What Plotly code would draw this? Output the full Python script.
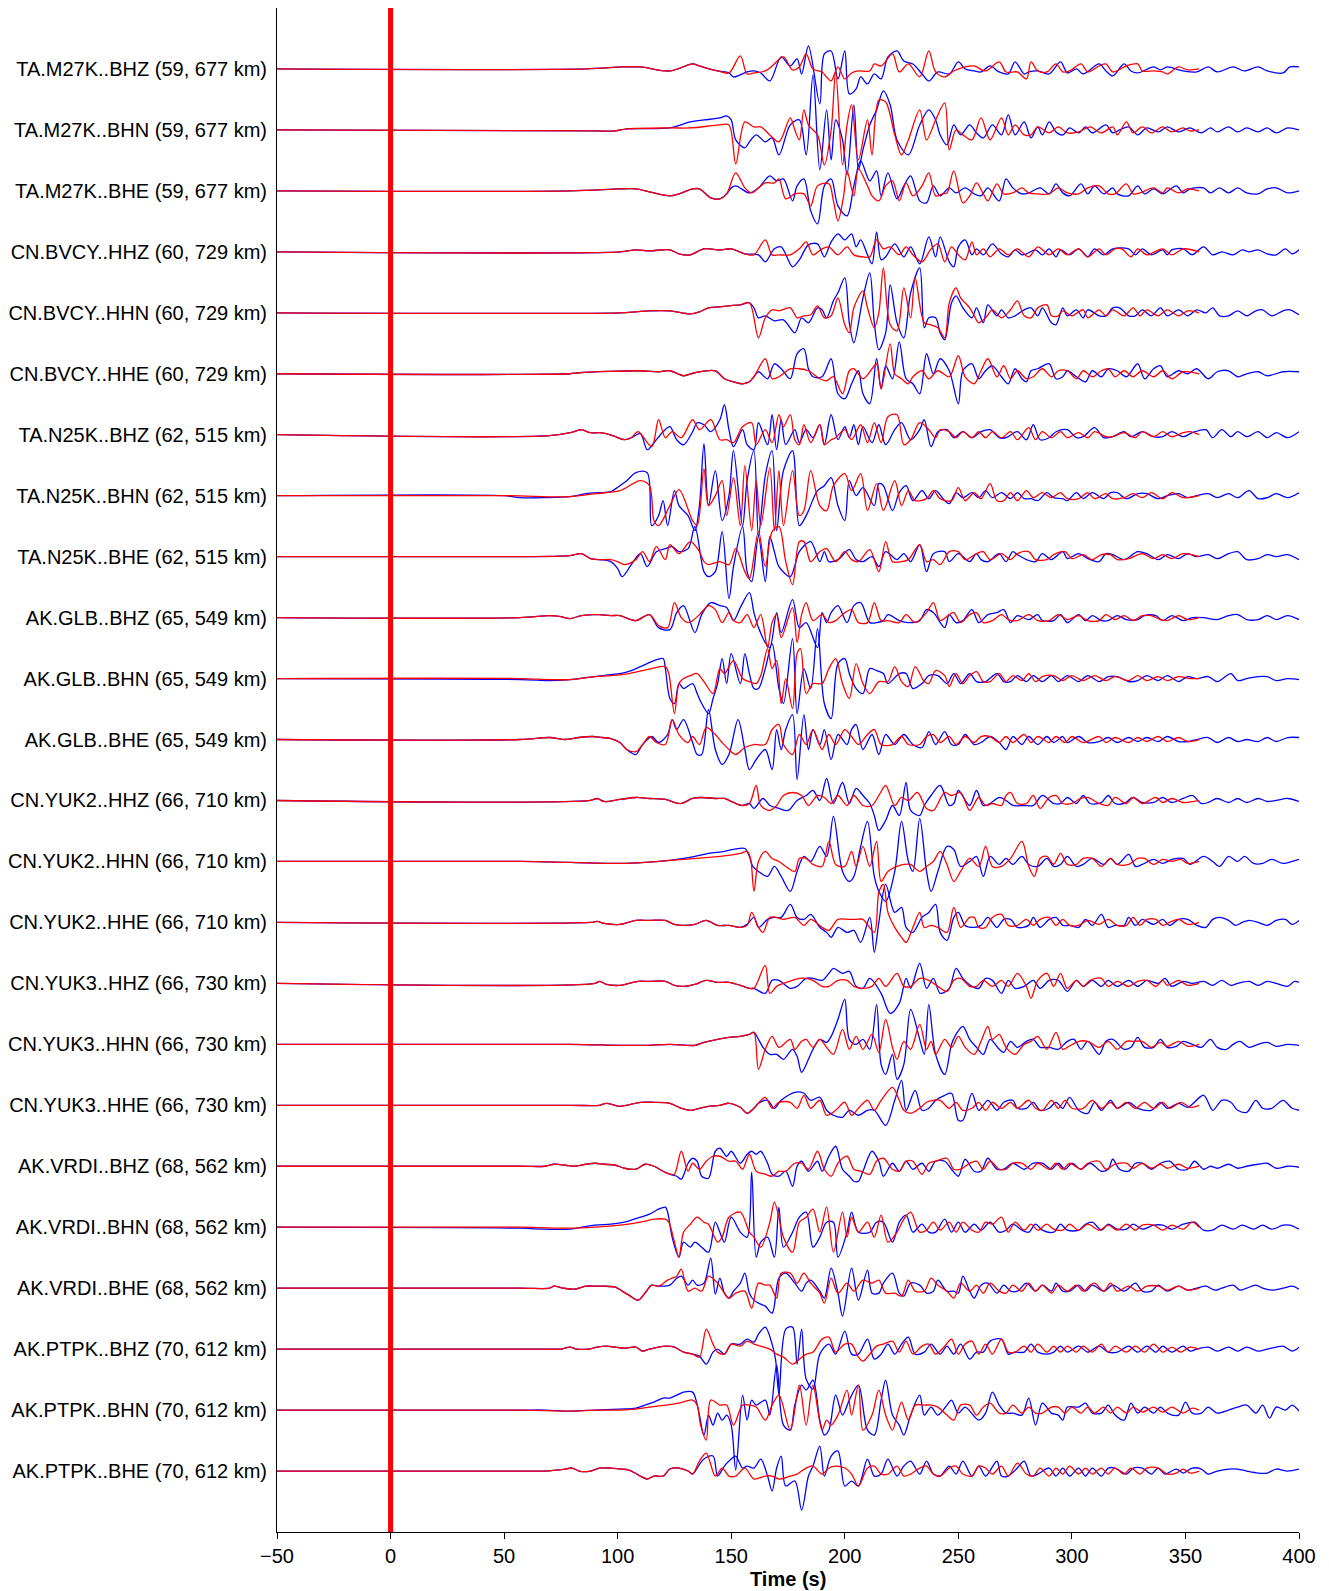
import plotly.graph_objects as go

# Station / channel labels, top to bottom
labels = [
    "TA.M27K..BHZ (59, 677 km)", "TA.M27K..BHN (59, 677 km)", "TA.M27K..BHE (59, 677 km)",
    "CN.BVCY..HHZ (60, 729 km)", "CN.BVCY..HHN (60, 729 km)", "CN.BVCY..HHE (60, 729 km)",
    "TA.N25K..BHZ (62, 515 km)", "TA.N25K..BHN (62, 515 km)", "TA.N25K..BHE (62, 515 km)",
    "AK.GLB..BHZ (65, 549 km)", "AK.GLB..BHN (65, 549 km)", "AK.GLB..BHE (65, 549 km)",
    "CN.YUK2..HHZ (66, 710 km)", "CN.YUK2..HHN (66, 710 km)", "CN.YUK2..HHE (66, 710 km)",
    "CN.YUK3..HHZ (66, 730 km)", "CN.YUK3..HHN (66, 730 km)", "CN.YUK3..HHE (66, 730 km)",
    "AK.VRDI..BHZ (68, 562 km)", "AK.VRDI..BHN (68, 562 km)", "AK.VRDI..BHE (68, 562 km)",
    "AK.PTPK..BHZ (70, 612 km)", "AK.PTPK..BHN (70, 612 km)", "AK.PTPK..BHE (70, 612 km)",
]

# Waveforms as (time s, amplitude) turning points; obs = data (blue), syn = synthetic (red)
m27k_bhz_obs = [(86,0),(102,2),(110,2),(123,-2),(133,5),(136,3),(144,-2),(149,-4),(151,-8),(157,-3),(160,-2),(163,-4),(167,-12),(172,12),(176,3),(179,10),(181,-5),(184,23),(189,-35),(191,15),(194,18),(197,-10),(200,18),(202,-25),(205,-20),(207,-8),(210,-15),(213,-5),(216,-10),(219,12),(223,18),(226,8),(230,5),(234,-5),(237,-12),(241,-3),(246,-5),(250,7),(253,0),(257,-2),(260,-3),(264,3),(268,-3),(272,-5),(275,7),(279,-5),(281,-3),(285,-2),(290,-5),(295,7),(298,-4),(302,0),(305,-5),(312,5),(315,-2),(318,-7),(323,5),(326,-2),(329,-4),(336,2),(339,-1),(342,2),(349,-2),(355,-3),(360,2),(364,-3),(371,2),(376,-2),(382,2),(386,-2),(393,-4),(396,2),(400,2)]
m27k_bhz_syn = [(86,0),(102,2),(110,2),(123,-2),(133,5),(136,3),(144,-2),(149,-4),(154,13),(157,-5),(160,-4),(165,-2),(168,3),(173,12),(177,-1),(180,2),(183,15),(186,0),(190,-3),(192,-8),(194,-12),(197,2),(200,-10),(203,-4),(206,-2),(211,-2),(213,5),(216,3),(221,15),(224,-3),(228,5),(233,-8),(237,18),(240,-3),(244,-8),(248,-2),(253,2),(257,3),(262,-2),(268,7),(271,-3),(276,-3),(280,-10),(282,7),(285,-2),(289,-3),(293,5),(296,-3),(299,-2),(304,5),(307,-3),(312,3),(315,5),(318,-3),(324,3),(329,5),(331,-2),(336,-2),(340,-3),(342,-5),(347,2),(351,-1),(356,0)]

m27k_bhn_obs = [(90,-1),(99,-1),(104,1),(123,2),(132,8),(138,10),(145,12),(148,14),(150,10),(152,-10),(156,-18),(158,-12),(161,-5),(165,-12),(168,-8),(171,-25),(176,5),(180,10),(183,-25),(186,55),(189,-40),(192,20),(194,-30),(196,10),(199,-10),(201,-45),(204,25),(206,-40),(208,-20),(211,5),(214,20),(217,39),(220,25),(223,-10),(228,-25),(233,5),(237,20),(240,10),(242,-5),(245,-15),(248,5),(251,-5),(255,5),(258,-3),(261,-8),(265,5),(269,-5),(272,15),(275,-5),(279,8),(282,-8),(285,3),(287,-5),(290,8),(293,-2),(296,-5),(299,2),(303,-3),(306,3),(309,-3),(315,5),(318,-3),(321,0),(325,3),(329,-5),(333,2),(338,-2),(342,3),(347,-2),(352,2),(357,-3),(361,2),(364,-2),(369,3),(373,-2),(377,2),(382,-2),(386,2),(390,-3),(395,2),(400,0)]
m27k_bhn_syn = [(90,-1),(99,-1),(104,1),(123,2),(132,2),(145,5),(149,5),(152,-34),(156,8),(160,3),(163,3),(167,-5),(171,-12),(176,12),(178,0),(180,-10),(182,20),(184,5),(188,-5),(191,-35),(194,0),(196,58),(199,-35),(201,5),(203,25),(206,-30),(210,10),(212,-25),(215,30),(218,28),(222,-5),(225,-25),(228,-10),(233,20),(236,-10),(240,10),(244,27),(246,-20),(249,0),(252,-5),(256,-10),(260,12),(264,-10),(269,12),(272,-5),(275,5),(279,-5),(282,-5),(285,3),(290,-3),(294,3),(298,-3),(303,-2),(308,3),(313,-3),(318,3),(320,-5),(324,8),(327,-3),(331,3),(335,-3),(340,3),(344,-2),(349,2),(352,-1),(356,0)]

m27k_bhe_obs = [(79,0),(101,2),(108,2),(114,-1),(123,-5),(127,-3),(133,2),(136,2),(141,-7),(145,-8),(148,-3),(150,3),(152,5),(158,-2),(162,3),(167,15),(170,10),(173,12),(177,-10),(179,5),(182,12),(185,-20),(188,-33),(191,5),(194,12),(197,-15),(201,-25),(204,5),(207,30),(211,10),(214,20),(216,-5),(219,18),(223,-8),(226,5),(229,15),(233,-10),(236,-12),(239,5),(242,-5),(246,3),(249,-2),(253,3),(257,-3),(260,-5),(263,3),(268,-10),(271,12),(274,3),(278,-3),(281,-2),(286,3),(290,-3),(293,7),(296,-2),(299,-5),(304,7),(307,-3),(310,5),(314,-3),(318,3),(320,-3),(325,-5),(329,5),(332,-3),(336,2),(340,-3),(346,5),(349,-2),(352,2),(358,3),(361,-2),(365,3),(369,-2),(373,3),(377,-2),(382,-3),(386,2),(390,3),(395,-2),(400,0)]
m27k_bhe_syn = [(79,0),(101,2),(108,2),(114,-1),(123,-5),(127,-3),(133,2),(136,2),(141,-7),(145,-8),(148,-3),(152,18),(156,3),(159,-2),(162,3),(165,8),(169,8),(171,12),(174,-8),(178,-3),(182,-3),(185,-15),(188,5),(193,7),(195,-10),(197,-30),(199.5,-5),(201,20),(204,-5),(206,22),(210,5),(212,-5),(215,-10),(218,5),(221,10),(224,-10),(227,8),(230,-5),(234,5),(237,18),(240,-5),(243,-3),(245,-2),(248,20),(252,-12),(255,-5),(258,8),(261,-3),(263,-10),(267,7),(270,-3),(274,-2),(278,3),(281,-2),(285,-3),(290,-3),(294,3),(298,-2),(303,-3),(307,3),(312,5),(316,-3),(319,-3),(324,7),(327,-3),(330,-2),(336,3),(340,-2),(342,3),(347,-2),(351,2),(356,0)]

bvcy_hhz_obs = [(101,0),(108,2),(114,1),(123,2),(127,-2),(132,-3),(138,3),(145,2),(150,3),(156,-2),(162,-3),(165,-10),(169,3),(172,5),(177,-15),(180,-8),(184,7),(188,8),(191,-5),(194,10),(197,18),(200,12),(203,18),(205,5),(207,12),(210,-3),(212,-12),(214,20),(216,-8),(218,-5),(222,8),(226,-5),(229,5),(233,-12),(237,15),(240,-5),(242,15),(246,-10),(248,-15),(250,5),(253,12),(256,-3),(258,3),(261,-3),(265,8),(269,-2),(272,-5),(275,2),(278,-3),(280,-2),(284,2),(287,-3),(290,3),(293,-5),(295,2),(299,-3),(303,3),(307,-5),(310,3),(314,-3),(318,3),(325,3),(328,-3),(331,3),(335,-3),(340,2),(342,-3),(344,2),(349,3),(353,-3),(358,5),(362,-3),(366,0),(371,-3),(375,2),(378,0),(382,2),(386,-2),(390,-3),(394,3),(397,-2),(400,2)]
bvcy_hhz_syn = [(101,0),(108,2),(114,1),(123,2),(127,-2),(132,-3),(138,3),(145,2),(150,3),(156,-2),(160,-3),(165,12),(168,-3),(171,-3),(176,-3),(180,3),(183,10),(186,-3),(190,3),(193,5),(197,-3),(201,5),(204,-3),(208,-5),(211,-5),(214,12),(217,3),(220,5),(224,-3),(227,5),(230,-3),(234,-10),(238,3),(241,8),(244,-10),(247,5),(250,-3),(253,-8),(256,10),(258,-3),(261,3),(264,-5),(268,3),(272,-3),(276,3),(281,-5),(285,5),(290,-3),(294,3),(298,-3),(303,3),(307,-5),(312,3),(315,-3),(319,3),(322,3),(326,-5),(329,3),(333,-3),(340,3),(344,-3),(349,3),(356,0)]

bvcy_hhn_obs = [(101,0),(108,1),(114,2),(123,2),(132,-1),(136,1),(140,5),(145,6),(149,7),(154,8),(158,10),(160,5),(162,-5),(165,-3),(169,-8),(173,-7),(178,-20),(181,-5),(184,-10),(188,5),(190,3),(192,-5),(195,12),(197,20),(200,35),(202,-10),(204,-30),(208,15),(211,40),(213,-10),(215,-37),(218,-20),(220,28),(223,-10),(226,-25),(229,20),(233,45),(235,-15),(237,-5),(240,-5),(242,-20),(244,-27),(247,10),(249,17),(252,5),(256,-5),(258,5),(261,-10),(263,8),(267,-3),(269,3),(272,-5),(275,-3),(279,3),(282,5),(285,-3),(287,5),(291,-10),(293,-12),(296,5),(298,-3),(302,3),(305,-5),(307,3),(312,-3),(315,-3),(318,5),(321,5),(325,-3),(328,-3),(331,3),(335,-3),(339,5),(342,-3),(347,3),(351,-3),(355,3),(359,0),(362,5),(365,-3),(369,-3),(373,2),(377,-3),(381,2),(384,3),(388,-3),(393,2),(396,3),(400,-2)]
bvcy_hhn_syn = [(101,0),(108,1),(114,2),(123,2),(132,-1),(136,1),(140,5),(145,6),(149,7),(154,8),(158,10),(162,-25),(165,-5),(168,3),(171,2),(176,5),(179,-5),(182,-3),(185,-2),(188,7),(191,-5),(194,-3),(197,15),(200,-12),(202,-20),(204,5),(208,22),(210,5),(213,-15),(215,0),(217,45),(220,-12),(223,-18),(226,25),(229,-5),(231,35),(235,-10),(238,-12),(241,-15),(244,-25),(246,10),(249,25),(251,15),(255,5),(257,-3),(259,-10),(262,-5),(265,3),(269,-5),(273,3),(276,12),(279,-3),(282,-5),(285,5),(289,8),(291,-3),(294,-3),(296,2),(300,-3),(305,3),(307,-5),(312,3),(315,-3),(318,3),(323,-3),(327,5),(330,-3),(333,3),(338,-3),(342,3),(347,-3),(351,2),(356,0)]

bvcy_hhe_obs = [(79,0),(83,1),(110,3),(118,2),(123,3),(129,-2),(134,1),(143,3),(147,-5),(151,-8),(155,-10),(158,-8),(160,-3),(162,2),(166,-5),(169,10),(172,5),(176,-5),(179,20),(182,25),(184,5),(186,-3),(190,-3),(194,15),(197,-20),(200,-25),(203,-10),(206,3),(208,-20),(211,-30),(214,15),(216,-15),(218,8),(221,-5),(224,32),(227,-5),(230,-10),(233,-20),(236,20),(239,0),(242,15),(246,3),(250,-30),(252,3),(256,10),(259,-5),(262,3),(265,8),(269,-3),(272,-10),(275,5),(278,-5),(280,-8),(282,3),(285,5),(290,10),(293,-5),(296,-3),(298,3),(302,-3),(306,-8),(309,3),(313,-3),(316,5),(320,3),(324,-3),(329,10),(332,-5),(336,5),(339,8),(342,-3),(347,3),(351,0),(355,5),(360,-5),(364,2),(369,3),(373,-3),(377,0),(382,2),(386,-2),(393,2),(400,2)]
bvcy_hhe_syn = [(79,0),(83,1),(110,3),(118,2),(123,3),(129,-2),(134,1),(143,3),(147,-5),(151,-8),(155,-10),(158,-8),(160,-3),(165,15),(168,-5),(171,-3),(176,5),(180,5),(184,3),(189,-5),(192,-7),(195,-3),(199,-20),(202,3),(204,5),(208,-5),(212,5),(214,10),(216,-15),(220,30),(222,0),(225,-5),(228,-10),(230,-3),(234,3),(237,-5),(241,3),(246,-3),(250,18),(253,-3),(257,-10),(260,3),(263,15),(267,-3),(270,8),(273,-5),(276,3),(280,-5),(283,-3),(287,5),(291,-3),(294,3),(298,3),(302,-5),(305,3),(309,-3),(313,3),(316,5),(319,-3),(323,3),(327,-3),(331,3),(336,-3),(340,3),(344,-5),(349,2),(356,0)]

n25k_bhz_obs = [(70,-1),(79,2),(84,5),(88,2),(92,2),(95,1),(99,-2),(103,-5),(106,-3),(110,1),(113,-15),(116,-8),(120,3),(123,8),(126,-5),(129,-10),(133,3),(135,12),(138,10),(141,3),(145,15),(147,30),(149,5),(151,-12),(155,5),(157,-10),(160,-15),(162,12),(166,-10),(168,20),(170,-15),(172,15),(174,-10),(178,5),(180,-8),(183,5),(186,-3),(189,10),(191,-10),(194,20),(197,-5),(200,8),(202,-3),(204,10),(206,-10),(208,8),(212,-8),(215,10),(218,-10),(222,5),(225,12),(229,-5),(233,5),(235,15),(238,-12),(241,3),(245,5),(248,-3),(252,3),(256,-3),(260,3),(264,5),(268,-3),(271,-3),(276,3),(280,-5),(283,10),(286,-5),(290,-3),(293,3),(298,5),(302,-3),(305,-2),(310,7),(314,-3),(318,-2),(323,3),(326,-2),(331,3),(336,-2),(340,-2),(344,3),(349,-2),(353,2),(359,5),(362,-3),(366,5),(370,-2),(373,3),(377,-2),(382,3),(386,-3),(390,2),(395,-3),(400,3)]
n25k_bhz_syn = [(70,-1),(79,2),(84,5),(88,2),(92,2),(95,1),(99,-2),(103,-5),(106,-3),(109,3),(115,-12),(118,15),(121,-3),(124,3),(128,-3),(133,15),(136,5),(141,15),(145,-5),(148,-5),(151,-8),(155,8),(159,12),(161,-10),(165,5),(168,-8),(171,20),(173,8),(176,20),(178,-5),(180,-10),(182,10),(185,-8),(189,10),(191,-10),(194,-5),(196,-3),(200,5),(203,-5),(207,10),(210,-8),(213,12),(216,-8),(219,18),(223,20),(226,-10),(229,-5),(233,12),(237,5),(240,-3),(242,5),(246,3),(249,-3),(252,3),(256,-3),(259,3),(262,-3),(265,3),(269,-3),(273,3),(276,-5),(281,7),(284,-5),(287,3),(291,-3),(295,3),(298,-3),(303,2),(307,-3),(310,3),(315,-2),(318,-2),(323,2),(328,-3),(331,3),(336,-2),(340,3),(344,-2),(349,2),(352,3),(356,0)]

n25k_bhn_obs = [(50,0),(57,-2),(68,-2),(79,-1),(86,2),(92,3),(97,4),(101,10),(104,15),(108,23),(113,23),(115,-30),(118,-20),(120,-5),(122,-30),(125,5),(127,-10),(131,-20),(134,-35),(136,-10),(138,52),(140,-10),(143,25),(146,-25),(149,0),(151,45),(155,-30),(157,15),(160,45),(162,-40),(165,20),(168,45),(170,-35),(173,25),(177,45),(180,-30),(183,-20),(188,5),(191,10),(194,18),(197,-10),(200,-25),(202,15),(205,0),(208,8),(213,-10),(215,12),(217,10),(221,-15),(224,3),(227,10),(230,-5),(234,5),(237,-3),(240,5),(244,-5),(246,-8),(249,3),(252,-2),(256,3),(259,-2),(262,5),(265,-2),(269,3),(273,-3),(276,3),(279,-3),(282,-3),(285,-5),(289,3),(292,-2),(296,-3),(298,-5),(302,3),(305,-3),(309,3),(314,-3),(317,3),(320,3),(324,-3),(329,2),(333,2),(338,-3),(342,0),(347,2),(351,-2),(355,0),(360,2),(364,-2),(369,2),(373,-2),(378,5),(382,-3),(386,-2),(390,2),(395,-2),(400,3)]
n25k_bhn_syn = [(50,0),(79,-1),(90,2),(101,5),(110,15),(114,10),(116,-25),(118,-30),(123,-10),(127,6),(133,-25),(135,-30),(138,27),(140,-10),(143,0),(146,15),(148,-20),(151,18),(154,-30),(156,30),(159,-35),(161,15),(163,-30),(167,28),(169,-35),(171,25),(173,-30),(177,25),(180,-20),(182,-15),(185,25),(189,-10),(192,-15),(195,10),(200,22),(203,5),(207,22),(210,-15),(214,12),(217,-15),(222,15),(225,-10),(228,5),(231,-5),(236,-3),(239,5),(242,-3),(247,-5),(250,8),(253,-5),(257,3),(260,-3),(264,12),(267,-5),(270,-5),(273,3),(276,-5),(280,5),(283,-2),(287,3),(291,-2),(295,3),(298,-3),(303,-3),(307,3),(310,-3),(315,2),(318,-3),(323,-2),(327,2),(331,-2),(335,3),(340,-3),(344,3),(349,-2),(356,0)]

n25k_bhe_obs = [(50,0),(79,1),(84,3),(88,-2),(92,-3),(97,-5),(100,-12),(102,-20),(106,-8),(110,3),(113,-10),(117,5),(121,8),(124,10),(127,5),(131,8),(134,30),(138,-15),(140,-20),(143,-15),(146,25),(149,-42),(151,-10),(155,30),(157,-15),(159,-25),(162,20),(165,-25),(167,20),(169,5),(171,-10),(176,-20),(178,-9),(180,5),(185,15),(189,-5),(191,5),(193,-5),(197,-3),(202,7),(205,-3),(208,-5),(212,0),(215,-10),(218,5),(223,-3),(226,3),(229,-5),(233,12),(236,-15),(239,3),(244,5),(246,-5),(250,3),(255,-5),(258,3),(260,-3),(263,-5),(268,3),(271,-5),(274,5),(276,2),(280,-3),(284,-5),(287,3),(291,-3),(296,5),(298,-2),(303,3),(307,-2),(312,-5),(315,3),(318,2),(323,-3),(329,5),(333,3),(338,-3),(342,2),(347,-2),(351,3),(355,0),(360,2),(364,-2),(369,3),(373,5),(377,-3),(382,-2),(386,2),(390,0),(395,2),(400,-3)]
n25k_bhe_syn = [(50,0),(79,1),(84,3),(88,-2),(92,-3),(97,-3),(100,-5),(103,-8),(108,-3),(111,5),(114,-5),(117,10),(121,-3),(123,12),(127,3),(132,15),(136,5),(138,-5),(140,-8),(145,-5),(149,-8),(152,8),(156,-15),(158,-22),(162,25),(165,-10),(168,25),(171,30),(174,-5),(177,-28),(180,15),(182,15),(185,-5),(189,5),(192,8),(196,-5),(200,5),(203,-3),(206,-5),(211,7),(215,-15),(218,15),(221,-5),(225,-5),(228,-3),(233,12),(236,-5),(239,-3),(242,-8),(246,5),(250,5),(253,-3),(258,3),(261,5),(264,-3),(269,3),(273,-3),(276,3),(281,5),(284,-3),(289,-3),(292,2),(297,5),(300,-2),(305,2),(309,-3),(313,2),(317,2),(320,-3),(325,-2),(331,3),(336,-2),(340,2),(344,-2),(349,3),(356,0)]

glb_bhz_obs = [(57,0),(70,2),(75,1),(79,-1),(84,2),(89,3),(92,3),(97,2),(101,2),(108,-3),(114,3),(118,-10),(123,-12),(126,5),(129,12),(134,-15),(137,3),(141,15),(145,12),(148,10),(151,-3),(154,10),(158,25),(160,5),(162,-10),(165,-25),(167,-30),(170,5),(172,-15),(177,18),(180,-10),(183,-5),(188,-30),(190,5),(192,-5),(194,5),(197,12),(201,-5),(204,12),(207,15),(211,-5),(214,-5),(217,-3),(219,3),(224,-3),(228,-5),(233,-3),(236,8),(239,5),(244,-10),(246,3),(249,-5),(252,-3),(256,8),(259,-5),(263,3),(267,5),(270,8),(273,-5),(276,2),(281,-2),(285,3),(287,-3),(292,-3),(295,3),(298,-5),(303,3),(306,-3),(309,2),(313,-3),(316,-3),(320,2),(324,-2),(329,-2),(332,2),(337,2),(340,-3),(344,2),(349,-3),(353,0),(358,0),(364,-2),(369,2),(373,3),(377,-2),(382,-2),(386,2),(390,-2),(395,2),(400,-2)]
glb_bhz_syn = [(57,0),(70,2),(75,1),(79,-1),(84,2),(89,3),(92,3),(97,2),(101,2),(108,-3),(114,3),(118,-8),(122,-10),(125,15),(128,0),(131,-5),(133,-3),(136,3),(140,12),(143,8),(146,-5),(149,5),(151,-3),(154,-5),(157,3),(160,-10),(163,3),(166,-30),(168,-5),(170,3),(172,-20),(177,10),(179,-25),(181,3),(183,15),(186,-3),(190,3),(193,-5),(196,-3),(200,5),(203,8),(206,-5),(210,-5),(213,15),(216,-3),(219,-3),(224,-5),(227,3),(231,-5),(236,5),(239,15),(242,-3),(246,3),(248,5),(251,-5),(255,3),(258,5),(261,-5),(265,-3),(269,3),(272,-2),(276,-3),(281,3),(285,-3),(290,-3),(294,3),(298,-2),(303,2),(307,-3),(312,-3),(315,3),(319,-2),(323,2),(327,-3),(331,2),(335,2),(339,-2),(342,-3),(347,2),(351,-2),(356,0)]

glb_bhn_obs = [(57,-1),(70,-2),(79,-1),(90,2),(97,4),(101,5),(106,8),(110,12),(113,15),(116,18),(120,20),(121,10),(123,-20),(125,-25),(127,-5),(129,-10),(133,-5),(135,-15),(137,-25),(140,-35),(142,-20),(144,-5),(146,20),(148,-5),(150,25),(154,-5),(156,25),(158,5),(160,-10),(162,-10),(165,10),(168,35),(171,-10),(173,-25),(177,40),(179,-35),(182,10),(185,-10),(188,50),(191,-25),(194,-40),(197,15),(200,20),(202,5),(205,-10),(208,-15),(211,10),(214,8),(217,5),(219,-5),(224,5),(227,5),(230,-10),(234,-5),(237,3),(241,3),(245,-5),(248,5),(251,-5),(255,5),(258,-3),(262,-3),(267,5),(270,-3),(273,-3),(276,3),(280,-3),(283,3),(287,-3),(291,3),(294,-3),(298,3),(303,-3),(307,3),(312,-3),(316,2),(320,2),(325,-3),(329,-2),(333,3),(338,-2),(342,3),(347,-3),(351,2),(355,0),(360,2),(364,-3),(370,5),(373,-2),(377,0),(382,2),(386,2),(390,-2),(395,0),(400,-1)]
glb_bhn_syn = [(57,0),(70,-1),(79,-1),(90,2),(97,3),(105,5),(111,8),(115,10),(121,12),(122.5,5),(125,-35),(127,-5),(129,0),(132,3),(135,5),(138,-3),(142,-15),(145,10),(147,5),(151,18),(155,0),(158,-3),(161,-5),(163,3),(166,30),(168,10),(170,18),(172,-25),(174,0),(177,-30),(179,25),(180.5,30),(183,-15),(186,-5),(190,-5),(193,10),(196,20),(199,-5),(202,-20),(205,15),(208,-5),(211,-15),(215,-3),(219,-3),(222,12),(225,-3),(228,-8),(231,12),(235,-3),(237,-5),(240,8),(244,3),(246,-8),(249,5),(252,-5),(255,3),(258,7),(261,-3),(264,-3),(268,5),(271,-3),(274,3),(278,-2),(281,5),(284,-3),(287,2),(292,3),(296,-2),(300,3),(305,-2),(310,3),(315,-2),(319,2),(325,-2),(329,3),(333,-2),(338,2),(342,-2),(347,2),(352,0),(356,0)]

glb_bhe_obs = [(57,0),(70,2),(77,0),(83,2),(89,3),(93,2),(97,1),(101,-3),(104,-10),(108,-15),(111,-5),(115,3),(118,-3),(122,5),(124,20),(126,10),(129,20),(133,-3),(135,-15),(137,-15),(140,30),(143,-10),(146,-25),(149,-15),(153,20),(156,-10),(158,-30),(161,-20),(165,-10),(168,-30),(170,10),(172,-10),(174,10),(177,25),(179,-40),(182,25),(184,-10),(186,10),(189,-5),(191,10),(194,-20),(197,5),(201,-5),(203,10),(205,15),(208,-10),(212,5),(215,-15),(218,5),(222,-5),(226,5),(230,-5),(234,-8),(237,8),(240,-5),(244,8),(247,-5),(250,-5),(253,5),(257,-5),(260,-3),(264,3),(268,-3),(271,-10),(274,3),(278,-5),(281,3),(285,-5),(289,3),(292,-3),(296,3),(298,-3),(303,3),(307,-3),(312,-2),(316,2),(320,-3),(325,2),(329,-2),(333,2),(338,-2),(342,3),(347,-2),(351,-2),(355,0),(360,2),(364,-3),(369,2),(373,-2),(377,0),(382,-2),(386,2),(390,-2),(395,2),(400,2)]
glb_bhe_syn = [(57,0),(70,2),(77,0),(83,2),(89,3),(93,2),(97,1),(101,-3),(104,-10),(108,-12),(111,-5),(114,3),(117,-3),(121,-5),(124,20),(127,5),(131,-3),(133,3),(136,-5),(139,12),(143,5),(146,-3),(149,-10),(152,-15),(156,-8),(160,-5),(165,-5),(168,10),(171,15),(173,-5),(177,-15),(180,5),(183,-5),(186,10),(190,-10),(193,5),(196,-5),(200,10),(203,3),(206,-5),(210,5),(213,10),(216,-5),(221,-5),(225,3),(228,-5),(233,-5),(236,3),(239,5),(242,-3),(246,3),(249,-5),(253,3),(257,-3),(260,3),(264,3),(268,-3),(271,3),(274,-3),(279,5),(282,-3),(285,3),(290,-3),(293,3),(297,-3),(300,3),(305,-3),(312,3),(315,-3),(319,2),(325,-3),(329,2),(333,-2),(338,3),(342,-2),(347,2),(351,-2),(356,0)]

yuk2_hhz_obs = [(88,0),(91,2),(94,-1),(101,1),(108,3),(114,2),(121,1),(125,-2),(128,-3),(133,2),(137,3),(143,2),(147,2),(151,-2),(155,-5),(158,-3),(160,-8),(164,2),(167,-5),(171,-8),(175,-10),(179,0),(183,5),(186,10),(189,0),(192,22),(195,-3),(199,18),(202,-3),(205,12),(208,5),(211,-3),(213,-15),(215,-30),(218,-20),(221,-5),(224,-15),(227,18),(229,-10),(233,-15),(235,-5),(238,5),(242,15),(246,-5),(248,-3),(250,10),(255,-5),(258,10),(261,-5),(264,-3),(268,3),(271,0),(274,-5),(279,-5),(283,-5),(287,5),(292,-3),(295,-3),(298,3),(302,-3),(305,5),(308,-3),(313,-2),(316,5),(319,-3),(323,-3),(327,3),(331,-2),(336,-2),(340,3),(344,-2),(349,2),(353,5),(357,-3),(360,-2),(364,2),(369,-2),(373,2),(377,-2),(382,2),(386,-1),(390,0),(395,2),(400,-1)]
yuk2_hhz_syn = [(88,0),(91,2),(94,-1),(101,1),(108,3),(114,2),(121,1),(125,-2),(128,-3),(133,2),(137,3),(143,2),(147,2),(151,-2),(155,-5),(158,-3),(161,15),(163,-5),(167,-10),(170,-5),(173,5),(177,8),(181,5),(184,-5),(188,5),(191,3),(194,-3),(197,5),(201,-5),(204,5),(208,-5),(212,-5),(215,5),(218,15),(222,-5),(225,3),(228,0),(232,8),(236,-8),(239,-10),(244,8),(247,5),(251,8),(255,-10),(259,3),(262,-5),(265,-3),(269,-5),(271,5),(273,8),(276,-3),(280,-3),(283,5),(286,-8),(290,3),(293,5),(296,-3),(300,-3),(304,2),(307,3),(312,-3),(316,-5),(319,3),(324,-3),(327,3),(331,-3),(337,3),(340,-2),(344,2),(349,-2),(356,0)]

yuk2_hhn_obs = [(57,0),(79,-1),(101,-2),(112,-1),(123,1),(129,3),(134,5),(140,8),(147,10),(151,12),(156,13),(158,5),(159.5,-5),(162,-10),(166,-15),(169,-5),(172,-15),(176,-30),(179,-10),(182,5),(185,0),(189,15),(192,5),(195,45),(199,-10),(202,-20),(204,-15),(207,15),(210,40),(213,-15),(215,-30),(218,-40),(222,-10),(225,40),(228,0),(230,-10),(233,43),(236,-10),(238,-30),(241,-10),(245,15),(248,12),(251,-5),(255,0),(258,5),(261,-15),(264,5),(268,-3),(271,3),(274,-3),(278,5),(281,-3),(285,-5),(289,3),(292,-5),(295,-3),(298,5),(302,-5),(305,-3),(309,3),(314,-3),(317,3),(320,-3),(325,7),(328,-5),(331,-3),(336,2),(340,-2),(344,2),(349,3),(352,-3),(358,5),(362,0),(365,-5),(369,5),(373,0),(376,5),(380,-2),(384,-2),(388,2),(393,-2),(397,0),(400,2)]
yuk2_hhn_syn = [(57,0),(79,-1),(101,-2),(112,-1),(123,1),(129,2),(140,4),(149,6),(154,8),(157,10),(158.5,3),(160,-30),(162,0),(165,10),(168,3),(171,0),(174,-5),(178,-10),(180,3),(183,3),(186,-3),(190,-5),(193,20),(196,-3),(200,-5),(203,10),(205,-5),(208,15),(211,-5),(214,20),(216,-20),(219,-10),(223,-5),(226,-3),(229,-3),(233,-10),(236,-5),(239,0),(242,10),(245,-3),(248,-20),(251,-10),(255,3),(259,-5),(262,15),(265,-5),(269,-5),(273,3),(278,20),(281,-5),(283.5,-15),(286,3),(289,5),(292,-3),(295,8),(298,-3),(302,-3),(305,3),(309,3),(313,-5),(317,3),(320,-3),(325,-3),(329,3),(332,3),(336,-3),(340,2),(344,0),(348,2),(351,-2),(356,0)]

yuk2_hhe_obs = [(88,0),(91,1),(94,-1),(101,-2),(108,2),(114,2),(121,2),(125,-2),(129,-3),(134,-2),(139,2),(144,-3),(149,-3),(154,-5),(157,-2),(160,5),(162,-5),(166,3),(169,5),(172,5),(176,18),(179,5),(182,3),(185,8),(189,-5),(192,-10),(194,-15),(197,-5),(201,-10),(204,-8),(207,-20),(211,5),(213,-30),(215,0),(218,38),(222,10),(225,15),(227,-5),(230,-10),(234,5),(237,10),(240,18),(242,-10),(245,-18),(248,5),(250,10),(253,-3),(257,-5),(260,-3),(263,5),(267,-5),(270,3),(273,3),(276,-5),(281,-3),(283,5),(286,-5),(290,3),(293,5),(296,-3),(299,-3),(303,-5),(306,3),(309,-3),(313,8),(316,-5),(319,-3),(323,-3),(325,5),(328,-3),(331,3),(336,-2),(340,3),(343,-3),(347,3),(351,3),(355,-3),(359,-5),(362,3),(365,5),(369,2),(372,-3),(375,0),(378,2),(382,0),(386,-3),(390,2),(394,3),(397,-2),(400,2)]
yuk2_hhe_syn = [(88,0),(91,1),(94,-1),(101,-2),(108,2),(114,2),(121,2),(125,-2),(129,-3),(134,-2),(139,2),(144,-3),(149,-3),(154,-5),(157,-3),(159,10),(162,-5),(164,-10),(167,5),(170,5),(173,3),(178,5),(182,-3),(185,3),(190,-5),(193,-8),(197,3),(202,3),(205,3),(208,3),(213,-10),(215,30),(217,38),(219,10),(222,-5),(225,-15),(227,-20),(230,-5),(233,10),(235,-5),(238,-3),(241,-5),(245,-10),(248,15),(251,-5),(255,5),(257,5),(259,-5),(262,-5),(265,5),(269,8),(272,-3),(276,-3),(280,3),(283,-3),(286,3),(290,5),(293,-3),(296,3),(299,-3),(303,-3),(307,2),(312,-2),(316,3),(320,-3),(324,-3),(327,5),(330,-3),(333,3),(337,3),(340,-3),(343,0),(347,3),(351,-2),(356,0)]

yuk3_hhz_obs = [(90,0),(92,2),(95,-1),(101,-2),(105,0),(109,2),(114,2),(121,2),(125,-2),(129,-3),(134,-1),(139,3),(144,1),(149,1),(154,-2),(158,-5),(160,-5),(165,-10),(168,3),(171,3),(176,-5),(179,-3),(183,5),(186,5),(190,3),(193,10),(195,15),(199,10),(202,12),(205,-3),(208,-5),(211,5),(216,-10),(220,-30),(224,-20),(227,5),(229,-5),(233,20),(236,-5),(239,5),(242,-10),(246,-5),(249,15),(252,5),(256,-3),(259,-5),(262,5),(265,3),(269,-10),(272,3),(275,-5),(279,-3),(283,3),(286,-5),(290,3),(294,3),(298,-8),(302,3),(305,-3),(309,3),(313,-3),(316,3),(320,-3),(325,3),(329,-3),(333,3),(338,0),(341,5),(344,-3),(349,2),(353,0),(358,2),(362,-2),(366,3),(370,-2),(373,0),(378,2),(382,-2),(386,2),(390,0),(395,-3),(398,2),(400,1)]
yuk3_hhz_syn = [(90,0),(92,2),(95,-1),(101,-2),(105,0),(109,2),(114,2),(121,2),(125,-2),(129,-3),(134,-1),(139,3),(144,1),(149,1),(154,-2),(158,-5),(160,-5),(165,18),(167,-10),(170,-3),(173,0),(177,3),(180,5),(183,5),(186,3),(190,-3),(193,-3),(197,3),(201,3),(204,-3),(208,-5),(212,-3),(215,5),(218,-3),(223,10),(226,-3),(229,-3),(233,5),(237,3),(241,-3),(245,-8),(248,3),(251,5),(255,-3),(258,-3),(261,3),(265,-3),(269,3),(272,-3),(276,10),(280,-3),(282,-15),(285,3),(289,10),(292,-3),(295,10),(298,-5),(302,3),(305,-3),(308,3),(313,5),(316,-3),(320,2),(325,-3),(329,2),(333,3),(337,-3),(340,3),(342,-2),(347,3),(351,-2),(356,0)]

yuk3_hhn_obs = [(79,0),(101,-1),(112,-1),(123,0),(134,-1),(138,2),(144,5),(149,7),(154,8),(158,10),(160,12),(162,5),(164,-3),(167,-10),(170,-10),(173,-15),(177,-5),(179,-12),(181,-28),(184,-15),(186,-5),(189,5),(192,2),(194,8),(197,25),(200,45),(202,5),(205,0),(208,5),(211,-5),(214,40),(216,-20),(218,-30),(221,-10),(223,-35),(226,-20),(229,35),(233,5),(235,-10),(237,40),(240,-10),(244,-30),(247,0),(249,10),(252,18),(255,5),(258,-3),(261,-10),(264,5),(268,-5),(270,-8),(273,3),(276,-3),(280,3),(283,5),(286,-3),(290,-3),(294,-5),(298,3),(301,5),(304,-5),(307,3),(312,-10),(315,3),(318,5),(323,-5),(326,-3),(329,7),(332,-3),(336,-3),(339,5),(342,-3),(346,-2),(349,3),(353,0),(357,-3),(361,5),(364,-3),(368,-5),(371,0),(374,3),(378,-3),(382,0),(386,2),(390,-2),(395,0),(400,-1)]
yuk3_hhn_syn = [(79,0),(101,-1),(112,-1),(123,0),(134,-1),(138,2),(144,5),(149,7),(154,8),(158,10),(160,12),(162,-25),(165,-5),(168,8),(171,-3),(176,5),(178,-5),(181,3),(183,5),(186,-3),(189,5),(192,-3),(195,-10),(199,15),(202,-5),(205,8),(208,-5),(212,10),(215,-8),(218,25),(221,-3),(223,-15),(226,3),(229,-5),(233,20),(236,-5),(238,3),(240,-10),(244,5),(247,-3),(250,8),(253,-3),(257,-10),(260,3),(263,18),(265,5),(268,10),(271,-3),(275,-10),(279,0),(282,3),(285,8),(289,-5),(293,12),(296,-5),(298,-3),(303,3),(307,3),(312,-3),(316,3),(320,-5),(324,3),(327,3),(331,3),(335,-3),(339,2),(342,-2),(347,3),(351,-2),(356,0)]

yuk3_hhe_obs = [(79,0),(92,0),(95,2),(101,-1),(110,3),(116,3),(123,2),(127,-2),(132,-5),(136,-3),(140,-1),(145,0),(149,2),(154,-2),(157,-8),(160,-3),(162,2),(166,5),(169,-3),(172,5),(178,13),(182,12),(185,5),(189,8),(192,-5),(195,-10),(199,-12),(202,-5),(206,-10),(210,-5),(213,-5),(218,-20),(222,5),(225,25),(227,-5),(231,15),(234,-5),(237,-3),(240,5),(244,10),(247,12),(250,-15),(252,-15),(256,12),(259,-5),(263,5),(267,-5),(270,3),(274,5),(276,-3),(280,-3),(283,3),(286,-5),(290,-3),(293,3),(296,-3),(299,8),(303,-5),(307,-8),(310,3),(313,-5),(317,5),(320,-3),(325,3),(329,-3),(335,-5),(339,3),(342,-3),(347,2),(351,-2),(358,10),(362,-5),(366,5),(370,3),(373,-5),(377,-7),(381,5),(384,-3),(388,-3),(393,5),(397,-3),(400,-5)]
yuk3_hhe_syn = [(79,0),(92,0),(95,2),(101,-1),(110,3),(116,3),(123,2),(127,-2),(132,-5),(136,-3),(140,-1),(145,0),(149,2),(154,-2),(157,-8),(160,-3),(165,8),(168,-3),(171,3),(176,3),(179,-3),(182,10),(185,-3),(189,5),(192,-10),(196,-5),(200,3),(203,-10),(206,-3),(210,5),(213,-5),(216,5),(221,18),(224,5),(226,-5),(229,-8),(233,-3),(236,3),(239,5),(242,5),(246,-3),(249,3),(252,-5),(256,-3),(259,3),(262,-5),(265,3),(269,-3),(273,3),(276,-3),(281,5),(284,-3),(287,-5),(291,5),(294,-3),(297,5),(300,-3),(305,-3),(309,5),(313,-3),(317,3),(320,-3),(324,3),(328,-3),(332,3),(336,-3),(340,3),(343,-3),(348,3),(352,-2),(356,0)]

vrdi_bhz_obs = [(57,0),(68,0),(72,2),(77,1),(81,0),(86,2),(90,3),(94,2),(99,1),(103,-2),(108,-3),(112,2),(116,0),(120,-5),(123,-8),(126,-10),(128,-13),(131,3),(133,8),(135,5),(137,-10),(140,-12),(143,15),(145,18),(148,10),(150,15),(154,3),(157,12),(159,15),(161,12),(163,15),(166,3),(168,-8),(171,-10),(174,-5),(177,-20),(179,0),(181,5),(184,-5),(188,5),(190,-5),(193,10),(196,20),(199,-3),(202,-10),(204,-15),(206,-15),(208,-5),(212,15),(215,5),(217,-10),(221,3),(224,-5),(227,5),(230,-3),(234,3),(237,-5),(240,5),(244,5),(247,-3),(250,-10),(253,7),(257,-5),(260,-5),(263,8),(267,-3),(270,-3),(274,3),(279,-3),(283,3),(287,3),(291,-3),(294,3),(297,-3),(300,3),(304,-3),(308,3),(313,-5),(316,-3),(318,7),(321,-3),(325,-5),(328,3),(331,3),(335,-3),(339,3),(343,5),(347,-3),(351,-3),(354,5),(358,-3),(361,0),(364,-2),(369,2),(373,-2),(377,0),(382,2),(386,3),(390,-2),(395,0),(400,-1)]
vrdi_bhz_syn = [(57,0),(68,0),(72,2),(77,1),(81,0),(86,2),(90,3),(94,2),(99,1),(103,-2),(108,-3),(112,2),(116,0),(120,-5),(123,-8),(125,-8),(128,15),(131,-5),(133,3),(136,-3),(139,5),(142,10),(145,10),(149,5),(152,5),(155,-3),(158,12),(161,-5),(165,-8),(168,-10),(171,-5),(174,-5),(178,3),(181,3),(184,-3),(188,15),(191,-3),(194,-10),(197,3),(201,10),(204,-3),(207,-5),(211,-8),(214,5),(217,8),(221,-3),(224,-5),(227,5),(230,5),(234,-8),(237,3),(240,5),(245,8),(248,-3),(251,-3),(255,3),(258,5),(261,-3),(264,5),(268,-3),(271,-3),(274,3),(278,3),(282,-3),(285,3),(290,-3),(293,3),(296,-3),(299,3),(304,-3),(307,3),(312,5),(315,-3),(319,2),(324,3),(327,-2),(331,3),(335,-2),(339,2),(342,-2),(347,2),(351,-2),(356,0)]

vrdi_bhn_obs = [(57,-1),(68,-2),(79,-2),(90,2),(97,3),(103,5),(110,10),(114,13),(118,18),(121,20),(122,15),(124,-10),(127,-30),(129,-15),(132,-20),(134,-15),(137,-20),(140,-25),(143,5),(145,-5),(147,-15),(150,10),(154,-5),(157,-10),(159,55),(161,-30),(163,-15),(166,-10),(169,-30),(171,20),(173,-20),(177,-5),(180,10),(183,15),(186,-20),(189,-10),(192,5),(195,5),(197,-30),(201,-5),(203,15),(206,-5),(211,-5),(214,5),(217,5),(221,-15),(224,5),(227,12),(230,-5),(234,3),(237,-5),(240,-5),(244,8),(247,-5),(250,5),(253,-5),(257,3),(260,-3),(264,5),(268,-5),(271,-3),(274,3),(278,-3),(281,-5),(284,3),(287,-3),(292,-5),(295,3),(298,-3),(303,-3),(306,3),(309,5),(313,-3),(316,3),(320,-2),(324,-2),(327,3),(331,-2),(336,2),(340,2),(344,-2),(349,3),(354,5),(358,-3),(362,-3),(366,2),(371,-2),(375,2),(380,-2),(384,2),(388,-2),(393,2),(396,2),(400,-2)]
vrdi_bhn_syn = [(57,0),(79,-1),(90,0),(101,2),(110,5),(116,8),(121,8),(122.5,5),(125,-15),(127,-30),(129,-5),(132,3),(135,10),(138,5),(140,3),(144,-15),(146,-10),(149,10),(154,15),(158,-5),(160,-10),(163,-20),(167,5),(169,25),(171,10),(173,-10),(177,-25),(180,5),(183,10),(186,18),(189,-5),(192,20),(195,-25),(199,15),(201,-10),(203,10),(206,-5),(210,5),(213,-10),(216,12),(219,-15),(223,-5),(226,8),(229,15),(233,-5),(236,-3),(239,5),(242,-3),(246,5),(249,-5),(252,5),(256,-3),(259,-5),(262,5),(265,3),(269,10),(272,-5),(275,5),(279,-3),(282,3),(285,-3),(289,3),(292,-2),(296,-3),(299,3),(303,-3),(307,3),(312,-3),(316,2),(320,-3),(324,3),(328,-3),(331,2),(336,2),(340,-3),(344,2),(349,-2),(353,5),(356,0)]

vrdi_bhe_obs = [(57,0),(70,0),(72,2),(76,0),(81,-1),(86,2),(90,2),(94,2),(99,1),(102,-3),(105,-7),(109,-12),(112,-5),(115,3),(118,2),(123,3),(126,10),(128,12),(131,3),(133,8),(135,3),(138,5),(141,30),(143,-6),(145,10),(147,-5),(149,-10),(151,-3),(154,5),(156,15),(158,-5),(160,-12),(162,-15),(165,-18),(168,-25),(171,10),(174,15),(178,5),(181,-3),(183,5),(185,8),(189,-3),(191,-10),(194,20),(197,-5),(199,-28),(203,20),(206,-12),(210,18),(212,-5),(215,-5),(217,5),(221,15),(224,-5),(226,-8),(229,5),(233,3),(236,-5),(239,-3),(241,8),(245,-3),(248,-3),(250,-5),(252,12),(255,-3),(257,-10),(260,3),(263,5),(267,-5),(270,3),(273,-3),(276,-3),(280,5),(284,-3),(287,3),(291,-3),(293,5),(296,-3),(299,-3),(303,3),(306,-3),(309,3),(314,-3),(318,3),(323,-3),(328,5),(331,-3),(335,-3),(338,3),(342,-3),(347,2),(351,-2),(355,0),(359,2),(363,-2),(366,0),(371,3),(374,-2),(377,0),(381,3),(384,0),(388,-2),(393,0),(397,2),(400,-1)]
vrdi_bhe_syn = [(57,0),(70,0),(72,2),(76,0),(81,-1),(86,2),(90,2),(94,2),(99,1),(102,-3),(105,-7),(109,-12),(112,-5),(115,3),(118,2),(122,8),(124,10),(126,12),(128,19),(131,-3),(134,0),(137,-3),(140,12),(144,5),(147,-5),(149,-10),(152,-5),(156,-3),(159,-20),(162,5),(165,3),(167,3),(170,-10),(172,15),(176,15),(179,5),(182,15),(185,5),(189,-5),(191,-15),(194,10),(197,-5),(201,5),(204,-3),(208,8),(212,5),(215,8),(218,-5),(222,-5),(225,-8),(228,8),(231,-3),(235,-3),(238,10),(241,3),(245,-3),(248,-10),(251,5),(255,-3),(258,3),(261,-5),(264,5),(268,-3),(271,-5),(274,3),(278,-3),(281,5),(284,-3),(287,3),(291,-5),(294,3),(298,-3),(302,3),(305,-3),(308,3),(310,5),(314,-3),(317,5),(320,-3),(325,2),(329,-3),(333,2),(338,2),(342,-2),(347,2),(351,-2),(356,0)]

ptpk_bhz_obs = [(57,0),(70,0),(75,0),(79,2),(82,0),(87,0),(91,2),(95,3),(99,2),(103,1),(108,2),(111,-2),(114,0),(121,3),(125,2),(129,-3),(133,-5),(136,-7),(139,-15),(142,-3),(144,0),(147,-5),(150,5),(154,5),(157,10),(160,7),(162,15),(165,22),(168,5),(169.5,-10),(171,-45),(174,20),(177,22),(179,-15),(181,20),(183,-30),(186,-40),(189,-5),(193,5),(196,-5),(200,18),(203,-5),(206,-5),(210,10),(213,-10),(216,-5),(219,5),(222,-5),(225,5),(228,12),(231,-5),(235,-3),(238,5),(242,-5),(245,3),(248,-5),(251,5),(255,-10),(258,-3),(261,-3),(264,8),(269,10),(272,-5),(275,-3),(279,-3),(282,5),(285,-3),(289,-5),(292,-3),(295,3),(298,-3),(303,3),(307,-3),(312,3),(316,-3),(320,-3),(325,3),(329,-3),(333,3),(337,-3),(340,3),(344,-3),(349,3),(352,-2),(355,0),(360,2),(364,-2),(369,2),(373,-2),(377,2),(382,-2),(386,0),(390,2),(393,3),(397,-2),(400,2)]
ptpk_bhz_syn = [(57,0),(70,0),(75,0),(79,2),(82,0),(87,0),(91,2),(95,3),(99,2),(103,1),(108,2),(111,-2),(114,0),(121,3),(125,2),(129,-3),(133,-5),(136,-8),(139,20),(142,5),(144,-3),(147,-5),(150,5),(154,3),(157,8),(160,5),(163,3),(167,0),(170,-5),(173,-8),(177,-15),(180,-10),(183,-5),(186,-3),(190,10),(193,12),(196,-3),(200,5),(203,5),(206,-8),(208,-12),(211,-5),(214,3),(217,5),(221,8),(224,-3),(227,8),(230,-5),(234,3),(237,5),(240,-5),(244,3),(247,10),(250,-5),(253,5),(256,8),(259,-5),(262,5),(265,-5),(269,10),(272,-3),(275,-3),(279,3),(282,-3),(285,5),(289,-3),(292,3),(295,-3),(298,3),(302,-3),(305,3),(309,-3),(313,5),(316,-3),(319,3),(324,-3),(328,3),(332,-3),(336,5),(340,-3),(344,2),(348,-3),(352,2),(356,0)]

ptpk_bhn_obs = [(57,0),(68,0),(79,-1),(90,0),(101,1),(108,2),(112,5),(116,8),(120,12),(123,12),(126,15),(129,18),(133,18),(134.5,10),(136,-5),(138,-25),(140,-5),(142,-15),(144,-3),(146,-10),(148,-5),(150,-15),(152,-60),(155,15),(157,-10),(159,10),(161,5),(165,10),(167,-5),(170,45),(173,-15),(176,-20),(178,5),(181,25),(183,20),(186,30),(189,-10),(191,-25),(193,-20),(196,15),(199,-5),(202,10),(206,25),(210,-20),(213,-25),(216,10),(218,30),(221,-5),(224,-15),(226,-25),(229,-5),(233,15),(235,-5),(238,3),(241,-5),(245,5),(247,10),(250,-3),(253,3),(259,-10),(262,-3),(265,18),(268,5),(271,-3),(274,-3),(278,-5),(281,12),(284,-15),(287,7),(291,-3),(294,-5),(296,-10),(298,3),(303,3),(306,7),(309,-3),(313,-3),(316,5),(319,-5),(323,-10),(326,7),(329,-3),(332,3),(336,-3),(339,3),(342,-3),(347,-5),(350,8),(353,-3),(357,-3),(360,3),(364,-3),(369,0),(373,3),(377,5),(381,-3),(384,5),(387,-8),(390,3),(394,0),(397,5),(400,-1)]
ptpk_bhn_syn = [(57,0),(79,-1),(90,0),(101,0),(108,1),(114,3),(121,5),(127,7),(133,10),(135,5),(136.5,-15),(139,-30),(141,10),(145,5),(148,5),(151,-15),(155,5),(158,5),(161,3),(165,-10),(168,5),(171,15),(176,-20),(180,25),(183,-15),(186,25),(190,-20),(192,-10),(194,-15),(197,-5),(201,20),(203,-5),(206,25),(208,-20),(212,-5),(215,20),(218,-5),(221,-20),(223,-5),(225,8),(228,-10),(231,5),(235,5),(238,5),(241,3),(245,-5),(248,-10),(251,5),(255,5),(258,-5),(261,3),(264,7),(268,-3),(271,-3),(274,5),(278,-3),(281,3),(284,-3),(287,-3),(291,3),(294,3),(297,-3),(300,3),(304,-3),(307,3),(310,-3),(314,3),(317,-3),(320,3),(324,-3),(327,3),(331,-2),(336,3),(340,-2),(344,3),(349,-3),(353,2),(356,0)]

ptpk_bhe_obs = [(57,0),(68,0),(77,2),(80,3),(83,0),(88,0),(92,3),(97,3),(101,2),(105,1),(110,-5),(113,-8),(116,-5),(120,-5),(123,2),(127,3),(131,0),(133,-3),(135,3),(138,12),(142,15),(144,-5),(147,5),(150,12),(152,15),(155,3),(157,5),(160,3),(163,12),(166,-5),(168,-20),(170,3),(172,15),(174,-15),(178,-10),(181,-39),(184,-5),(186,5),(189,25),(191,-5),(194,15),(197,20),(200,-15),(203,-10),(206,-15),(210,12),(213,-5),(216,-3),(219,12),(223,-5),(226,5),(229,10),(233,-3),(236,10),(239,-3),(242,-5),(246,5),(249,-3),(252,10),(256,-5),(259,5),(262,-5),(267,10),(269,-5),(272,-5),(276,3),(279,10),(282,-5),(285,-3),(290,3),(293,-5),(296,3),(299,-5),(303,3),(306,-5),(309,3),(313,-5),(316,3),(319,3),(324,-3),(327,3),(331,3),(335,-3),(338,3),(341,-3),(346,2),(349,-2),(353,3),(357,2),(360,-3),(364,0),(369,2),(373,2),(377,0),(382,-2),(386,-2),(390,2),(395,0),(400,2)]
ptpk_bhe_syn = [(57,0),(68,0),(77,2),(80,3),(83,0),(88,0),(92,3),(97,3),(101,2),(105,1),(110,-5),(113,-8),(116,-5),(120,-5),(123,2),(127,3),(131,0),(133,-3),(136,10),(139,18),(143,-5),(146,3),(149,-5),(152,-5),(156,3),(160,-8),(165,-5),(168,-5),(171,-8),(176,-5),(179,-3),(183,3),(186,5),(190,-3),(193,3),(196,5),(200,3),(203,-3),(206,-15),(210,3),(213,5),(216,-3),(219,-3),(223,5),(226,-5),(229,-3),(233,3),(236,5),(239,-3),(242,-5),(246,3),(249,5),(252,-3),(256,-5),(259,5),(262,3),(265,-3),(269,5),(272,-5),(276,8),(280,-3),(283,-5),(286,3),(290,-5),(293,3),(296,-3),(299,5),(303,-3),(306,3),(309,-3),(313,3),(316,-3),(319,3),(323,-3),(326,3),(330,-3),(333,3),(338,3),(342,-3),(346,-2),(349,2),(352,-2),(356,0)]

records = [
    (m27k_bhz_obs, m27k_bhz_syn), (m27k_bhn_obs, m27k_bhn_syn), (m27k_bhe_obs, m27k_bhe_syn),
    (bvcy_hhz_obs, bvcy_hhz_syn), (bvcy_hhn_obs, bvcy_hhn_syn), (bvcy_hhe_obs, bvcy_hhe_syn),
    (n25k_bhz_obs, n25k_bhz_syn), (n25k_bhn_obs, n25k_bhn_syn), (n25k_bhe_obs, n25k_bhe_syn),
    (glb_bhz_obs, glb_bhz_syn), (glb_bhn_obs, glb_bhn_syn), (glb_bhe_obs, glb_bhe_syn),
    (yuk2_hhz_obs, yuk2_hhz_syn), (yuk2_hhn_obs, yuk2_hhn_syn), (yuk2_hhe_obs, yuk2_hhe_syn),
    (yuk3_hhz_obs, yuk3_hhz_syn), (yuk3_hhn_obs, yuk3_hhn_syn), (yuk3_hhe_obs, yuk3_hhe_syn),
    (vrdi_bhz_obs, vrdi_bhz_syn), (vrdi_bhn_obs, vrdi_bhn_syn), (vrdi_bhe_obs, vrdi_bhe_syn),
    (ptpk_bhz_obs, ptpk_bhz_syn), (ptpk_bhn_obs, ptpk_bhn_syn), (ptpk_bhe_obs, ptpk_bhe_syn),
]

x_ticks = [-50, 0, 50, 100, 150, 200, 250, 300, 350, 400]
t_start = -50
gain = 1 / 61.0  # amplitude units per trace spacing

FONT = "Arial, Liberation Sans, Helvetica, sans-serif"


def trace_xy(points, k):
    xs = [t_start] + [p[0] for p in points]
    ys = [-k] + [-k + p[1] * gain for p in points]
    return xs, ys


fig = go.Figure()
for color, idx in (("#0000ff", 0), ("#ff0000", 1)):
    for k, rec in enumerate(records):
        xs, ys = trace_xy(rec[idx], k)
        fig.add_trace(go.Scatter(
            x=xs, y=ys, mode="lines",
            line=dict(color=color, width=1.3, shape="spline", smoothing=0.9),
            hoverinfo="skip", showlegend=False,
        ))

# origin-time marker
fig.add_shape(type="line", x0=0, x1=0, y0=-24, y1=1, xref="x", yref="y",
              line=dict(color="#ff0000", width=5), layer="above")

# x-axis title placed below the tick labels
fig.add_annotation(text="<b>Time (s)</b>", xref="paper", yref="paper",
                   x=0.5, y=-0.0308, xanchor="center", yanchor="middle",
                   showarrow=False, font=dict(size=20, color="black"))

fig.update_layout(
    width=1329, height=1591,
    margin=dict(l=277, r=30, t=8, b=59),
    paper_bgcolor="white", plot_bgcolor="white",
    font=dict(family=FONT, size=20, color="black"),
    xaxis=dict(
        range=[-50, 400], tickvals=x_ticks, showgrid=False, zeroline=False,
        showline=True, linecolor="black", linewidth=1, automargin=False,
        ticks="outside", ticklen=6, tickcolor="black", tickwidth=1,
        tickfont=dict(size=20),
    ),
    yaxis=dict(
        range=[-24, 1], tickvals=[-k for k in range(len(labels))], ticktext=labels,
        showgrid=False, zeroline=False, showline=True, linecolor="black", linewidth=1,
        automargin=False,
        ticks="outside", ticklen=5, tickcolor="rgba(0,0,0,0)",
        tickfont=dict(size=20),
    ),
)

fig.write_html("out.html")
